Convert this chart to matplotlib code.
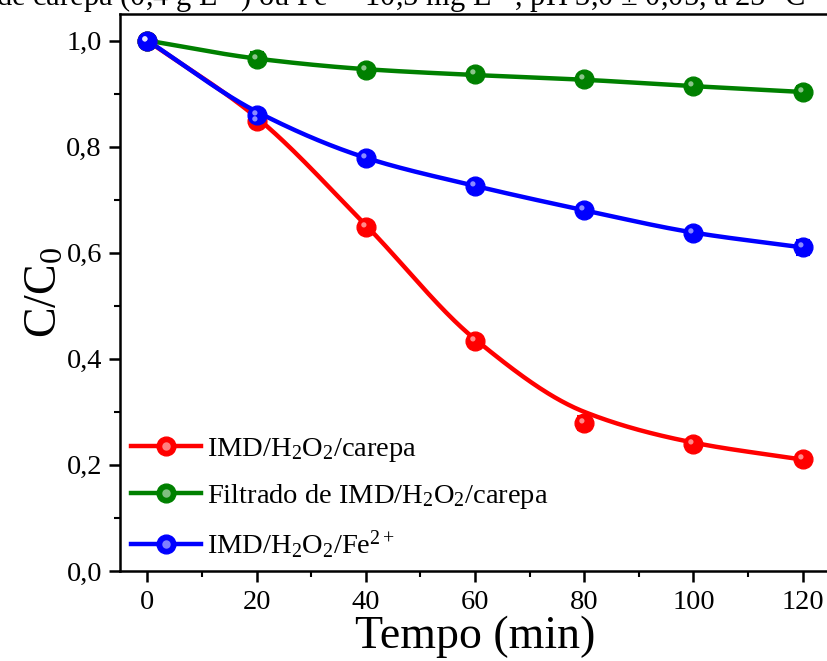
import numpy as np
import matplotlib
matplotlib.use("Agg")
import matplotlib.pyplot as plt
from matplotlib.path import Path
from matplotlib.legend_handler import HandlerTuple
from matplotlib.ticker import MultipleLocator, FuncFormatter

plt.rcParams['font.family'] = ['Liberation Serif', 'DejaVu Serif']
plt.rcParams['mathtext.fontset'] = 'custom'
plt.rcParams['mathtext.rm'] = 'Liberation Serif'
plt.rcParams['mathtext.it'] = 'Liberation Serif:italic'

# ---- data ----
tempo = [0, 20, 40, 60, 80, 100, 120]
red_vals = [1.0, 0.849, 0.648, 0.433, 0.279, 0.239, 0.211]
red_err = [0.005, 0.008, 0.008, 0.008, 0.014, 0.008, 0.006]
red_fit = [1.0, 0.855, 0.652, 0.437, 0.300, 0.242, 0.210]
green_vals = [1.0, 0.966, 0.944, 0.936, 0.927, 0.914, 0.903]
green_err = [0.005, 0.012, 0.008, 0.006, 0.006, 0.008, 0.012]
green_fit = [1.0, 0.966, 0.946, 0.935, 0.926, 0.914, 0.903]
blue_vals = [1.0, 0.860, 0.779, 0.726, 0.680, 0.637, 0.610]
blue_err = [0.005, 0.010, 0.006, 0.006, 0.010, 0.008, 0.014]
blue_fit = [1.0, 0.866, 0.779, 0.726, 0.680, 0.638, 0.610]

labels = [r'IMD/H$_2$O$_2$/carepa',
          r'Filtrado de IMD/H$_2$O$_2$/carepa',
          r'IMD/H$_2$O$_2$/Fe$^{2+}$']
colors = ['#ff0000', '#008000', '#0000ff']
x_ticks = [0, 20, 40, 60, 80, 100, 120]
y_ticks = [0.0, 0.2, 0.4, 0.6, 0.8, 1.0]
top_text = 'de carepa (0,4 g L$^{-1}$) ou Fe$^{2+}$ 10,5 mg L$^{-1}$, pH 3,0 ± 0,05, a 25 °C'


def pchip(x, y, xn):
    x = np.asarray(x, float); y = np.asarray(y, float)
    h = np.diff(x); d = np.diff(y) / h
    m = np.zeros_like(y)
    for k in range(1, len(x) - 1):
        if d[k - 1] * d[k] > 0:
            w1 = 2 * h[k] + h[k - 1]; w2 = h[k] + 2 * h[k - 1]
            m[k] = (w1 + w2) / (w1 / d[k - 1] + w2 / d[k])
    m[0] = d[0]; m[-1] = d[-1]
    idx = np.clip(np.searchsorted(x, xn) - 1, 0, len(h) - 1)
    t = (xn - x[idx]) / h[idx]
    h00 = 2 * t**3 - 3 * t**2 + 1; h10 = t**3 - 2 * t**2 + t
    h01 = -2 * t**3 + 3 * t**2; h11 = t**3 - t**2
    return h00 * y[idx] + h10 * h[idx] * m[idx] + h01 * y[idx + 1] + h11 * h[idx] * m[idx + 1]


# highlight marker: small circle offset toward upper-left
theta = np.linspace(0, 2 * np.pi, 40)
a, r = 0.28, 0.28
hl_path = Path(np.column_stack([-a + r * np.cos(theta), a + r * np.sin(theta)]))

fig = plt.figure(figsize=(8.27, 6.61), dpi=100)
ax = fig.add_axes([120 / 827, 90 / 661, 710 / 827, 557 / 661])

ms = 13.5
series = [(red_vals, red_err, red_fit), (green_vals, green_err, green_fit), (blue_vals, blue_err, blue_fit)]
handles = []
xs = np.linspace(0, 120, 400)
for (vals, err, fit), c, lab in zip(series, colors, labels):
    ax.plot(xs, pchip(tempo, fit, xs), color=c, lw=3.2, zorder=2, solid_capstyle='round')
    ax.errorbar(tempo, vals, yerr=err, fmt='none', ecolor=c, elinewidth=1.5, capsize=5, capthick=1.5, zorder=3)
    ax.plot(tempo, vals, 'o', color=c, ms=ms, mec=c, zorder=4)
    ax.plot(tempo, vals, ls='none', marker=hl_path, ms=ms * (a + r), color='white', alpha=0.55, mew=0, zorder=5)
    h1, = ax.plot([], [], '-o', color=c, lw=3.2, ms=ms)
    h2, = ax.plot([], [], ls='none', marker='o', ms=ms * 0.45, color='white', alpha=0.5, mew=0)
    handles.append((h1, h2))

ax.set_xlim(-5, 125)
ax.set_ylim(0, 1.05)
ax.set_xticks(x_ticks)
ax.set_yticks(y_ticks)
ax.xaxis.set_minor_locator(MultipleLocator(10))
ax.yaxis.set_minor_locator(MultipleLocator(0.1))
ax.yaxis.set_major_formatter(FuncFormatter(lambda v, p: f'{v:.1f}'.replace('.', ',')))
ax.tick_params(axis='both', which='major', direction='out', length=8, width=1.8, labelsize=20.5, pad=6)
ax.tick_params(axis='y', which='major', pad=5)
ax.tick_params(axis='both', which='minor', direction='out', length=4.5, width=1.5)
ax.tick_params(top=False, right=False, which='both')
for s in ax.spines.values():
    s.set_linewidth(1.8)

ax.set_xlabel('Tempo (min)', fontsize=33, labelpad=0)
ax.set_ylabel('C/C$_0$', fontsize=33, labelpad=0)

ax.legend(handles, labels, loc='lower left', bbox_to_anchor=(-0.012, -0.018), frameon=False,
          fontsize=20.5, handlelength=2.45, handletextpad=0.22, labelspacing=0.62,
          handler_map={tuple: HandlerTuple(ndivide=1)}, borderaxespad=0.3)

fig.text(-0.005, 1 - 6 / 661, top_text, fontsize=22, ha='left', va='baseline')

fig.savefig('out.png', dpi=100)
